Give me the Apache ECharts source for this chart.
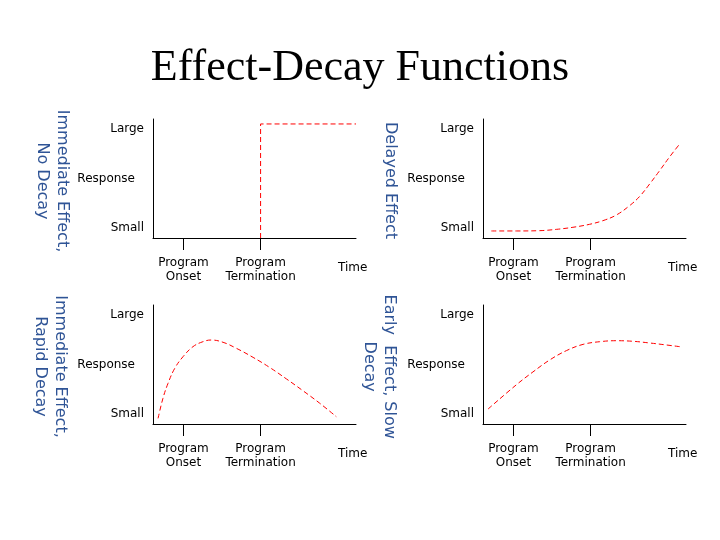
<!DOCTYPE html>
<html><head><meta charset="utf-8">
<script src="https://cdn.jsdelivr.net/npm/echarts@6/dist/echarts.min.js"></script>
<style>html,body{margin:0;padding:0;background:#fff}#c{width:720px;height:540px}</style>
</head><body><div id="c"></div>
<script>
const chartTitle = 'Effect-Decay Functions';
const panelTitles = ['Immediate Effect,\nNo Decay', 'Delayed Effect', 'Immediate Effect,\nRapid Decay', 'Early  Effect, Slow\nDecay'];
const yTickValues = [1, 6, 11];
const yTickLabels = ['Small', 'Response', 'Large'];
const xTickValues = [15, 53];
const xLabelValues = [15, 53, 98.4];
const xTickLabels = ['Program\nOnset', 'Program\nTermination', 'Time'];

const noDecayX = [53, 53, 100];
const noDecayY = [0, 11.5, 11.5];
const delayedX = [4.1, 16.4, 27.9, 36.1, 44.3, 52.5, 59.1, 65.7, 72.2, 77.2, 82.1, 87.0, 92.0, 96.5];
const delayedY = [0.71, 0.71, 0.74, 0.87, 1.08, 1.38, 1.75, 2.32, 3.26, 4.2, 5.45, 6.79, 8.2, 9.38];
const rapidX = [2.5, 4.9, 7.4, 10.7, 14.8, 19.7, 24.6, 28.7, 34.5, 41.1, 49.3, 57.5, 65.7, 73.9, 82.1, 90.3];
const rapidY = [0.57, 2.59, 4.1, 5.61, 6.79, 7.8, 8.3, 8.47, 8.24, 7.63, 6.72, 5.70, 4.55, 3.35, 2.1, 0.74];
const slowX = [2.5, 16.4, 24.6, 32.8, 41.1, 49.3, 57.5, 65.7, 73.9, 82.1, 90.3, 96.9];
const slowY = [1.51, 3.95, 5.25, 6.45, 7.4, 8.03, 8.3, 8.4, 8.34, 8.17, 7.97, 7.8];

const seriesX = [noDecayX, delayedX, rapidX, slowX];
const seriesY = [noDecayY, delayedY, rapidY, slowY];

const gridPos = [
  {left: 153, top: 119}, {left: 483, top: 119},
  {left: 153, top: 305}, {left: 483, top: 305}
];
const titlePos = [[51.7, 181], [390, 180.5], [50, 366.5], [379, 366.7]];

const font = '"DejaVu Sans", Verdana, sans-serif';
const grids = [], xAxes = [], yAxes = [], series = [], graphics = [];
gridPos.forEach((g, i) => {
  grids.push({left: g.left, top: g.top, width: 203, height: 119});
  xAxes.push({
    type: 'value', gridIndex: i, min: 0, max: 100,
    splitLine: {show: false},
    axisLine: {show: true, lineStyle: {color: '#000', width: 1}},
    axisTick: {show: true, customValues: xTickValues, length: 12, inside: false, lineStyle: {color: '#000'}},
    axisLabel: {
      show: true, customValues: xLabelValues, margin: 18,
      fontFamily: font, fontSize: 12, color: '#000', lineHeight: 14,
      formatter: v => {
        const k = xLabelValues.indexOf(v);
        const s = xTickLabels[k] || '';
        return s === 'Time' ? '{t|' + s + '}' : s;
      },
      rich: {t: {fontFamily: font, fontSize: 12, color: '#000', padding: [9, 0, 0, 0]}}
    }
  });
  yAxes.push({
    type: 'value', gridIndex: i, min: 0, max: 12,
    splitLine: {show: false},
    axisLine: {show: true, lineStyle: {color: '#000', width: 1}},
    axisTick: {show: false},
    axisLabel: {
      show: true, customValues: yTickValues, margin: 9,
      fontFamily: font, fontSize: 12, color: '#000',
      formatter: v => {
        const k = yTickValues.indexOf(v);
        const s = yTickLabels[k] || '';
        return s === 'Response' ? '{r|' + s + '}' : s;
      },
      rich: {r: {fontFamily: font, fontSize: 12, color: '#000', padding: [0, 9, 0, 0]}}
    }
  });
  series.push({
    type: 'line', xAxisIndex: i, yAxisIndex: i,
    data: seriesX[i].map((x, j) => [x, seriesY[i][j]]),
    smooth: i === 0 ? false : 0.4,
    symbol: 'none', silent: true,
    lineStyle: {color: '#ff0000', width: 1, type: [5, 3]}
  });
  graphics.push({
    type: 'text', x: titlePos[i][0], y: titlePos[i][1], rotation: -Math.PI / 2,
    style: {
      text: panelTitles[i], font: '16px ' + font, fill: '#2F5496',
      align: 'center', verticalAlign: 'middle', lineHeight: 20
    }
  });
});

const chart = echarts.init(document.getElementById('c'), null, {renderer: 'canvas'});
chart.setOption({
  animation: false,
  backgroundColor: '#fff',
  title: {
    text: chartTitle, left: 'center', top: 41,
    textStyle: {fontFamily: '"Liberation Serif", "Times New Roman", serif', fontSize: 44, fontWeight: 'normal', color: '#000'}
  },
  grid: grids, xAxis: xAxes, yAxis: yAxes, series: series,
  graphic: graphics
});
</script>
</body></html>
